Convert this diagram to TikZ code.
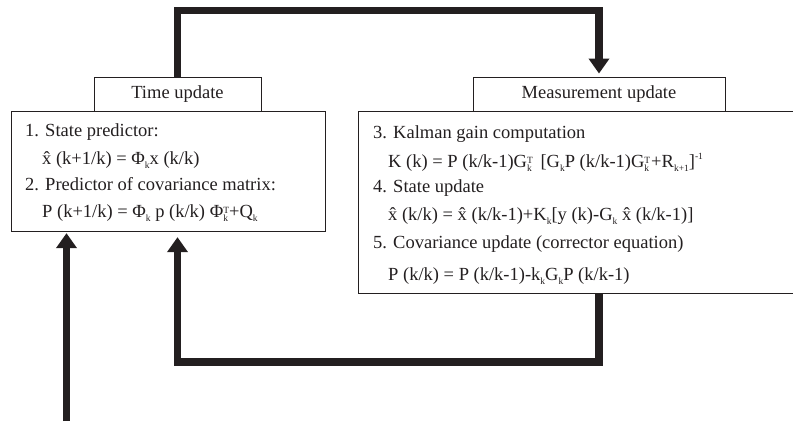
\documentclass[tikz,border=0pt]{standalone}
\usepackage{fontspec}
\setmainfont{Liberation Serif}
\usetikzlibrary{arrows.meta}

% small lowered / raised indices set in text
\newcommand\lo[1]{\raisebox{-0.22em}{\fontsize{9.5}{9.5}\selectfont #1}}
\newcommand\hi[1]{\raisebox{0.42em}{\fontsize{9.5}{9.5}\selectfont #1}}
% raised index stacked over a lowered one
\newcommand\hilo[2]{\raisebox{-4.2pt}{\fontsize{9.5}{9.5}\selectfont
  \shortstack[l]{#1\\[-1.5pt]#2}}}
% x with a circumflex above it
\newcommand\hx{x\char"0302}

\definecolor{ink}{RGB}{35,31,32}

\begin{document}
\begin{tikzpicture}[x=1pt,y=-1pt,
  every node/.style={text=ink},
  box/.style={draw=ink, line width=0.9pt, rectangle, inner sep=0pt},
  txt/.style={anchor=base west, inner sep=0pt,
    font=\fontsize{18.5}{22}\selectfont},
  flow/.style={draw=ink, line width=7.5pt, line join=miter,
    -{Triangle[width=20pt,length=15pt]}}]

\useasboundingbox (0,0) rectangle (793,421);
\begin{scope}
\clip (0,0) rectangle (793,421);

% body boxes
\node[box, minimum width=314pt, minimum height=119.5pt] (timebox) at (168,171.25) {};
\node[box, minimum width=452pt, minimum height=181.5pt] (measbody) at (584,202.25) {};

% header boxes
\node[box, minimum width=167pt, minimum height=34.5pt,
      font=\fontsize{18.5}{22}\selectfont] (timehdr) at (177.5,94.25) {Time update};
\node[box, minimum width=252pt, minimum height=34.5pt,
      font=\fontsize{18.5}{22}\selectfont] (meashdr) at (599,94.25) {Measurement update};

% time update equations
\node[txt] (t1) at (25,136.7) {1. State predictor:};
\node[txt] (t2) at (42,164.8) {\hx\ (k+1/k) = Φ\lo{k}x (k/k)};
\node[txt] (t3) at (25,190.5) {2. Predictor of covariance matrix:};
\node[txt] (t4) at (42,217.3) {P (k+1/k) = Φ\lo{k} p (k/k) Φ\hilo{T}{k}+Q\lo{k}};

% measurement update equations
\node[txt] (r1) at (373,138.3) {3. Kalman gain computation};
\node[txt] (r2) at (388,167) {K (k) = P (k/k-1)G\hilo{T}{k}\hspace{3pt} [G\lo{k}P (k/k-1)G\hilo{T}{k}\hspace{1pt}+R\lo{k+1}]\hi{-1}};
\node[txt] (r3) at (373,192.3) {4. State update};
\node[txt] (r4) at (388,220.7) {\hx\ (k/k) = \hx\ (k/k-1)+K\lo{k}[y (k)-G\lo{k} \hx\ (k/k-1)]};
\node[txt] (r5) at (373,248.3) {5. Covariance update (corrector equation)};
\node[txt] (r6) at (388,280) {P (k/k) = P (k/k-1)-k\lo{k}G\lo{k}P (k/k-1)};

% loop from time update to measurement update
\coordinate (topy) at (0,10.7);
\draw[flow] (timehdr.north) |- (topy -| meashdr.north) -- ([yshift=3pt]meashdr.north);

% feedback from measurement update to time update
\coordinate (boty) at (0,362);
\draw[flow] (meashdr |- measbody.south) |- (boty -| timehdr) -- ([yshift=-5.7pt]timehdr |- timebox.south);

% external input
\coordinate (input) at (66.5,421);
\draw[flow] (input) -- ([yshift=-1.7pt]input |- timebox.south);
\end{scope}
\end{tikzpicture}
\end{document}
